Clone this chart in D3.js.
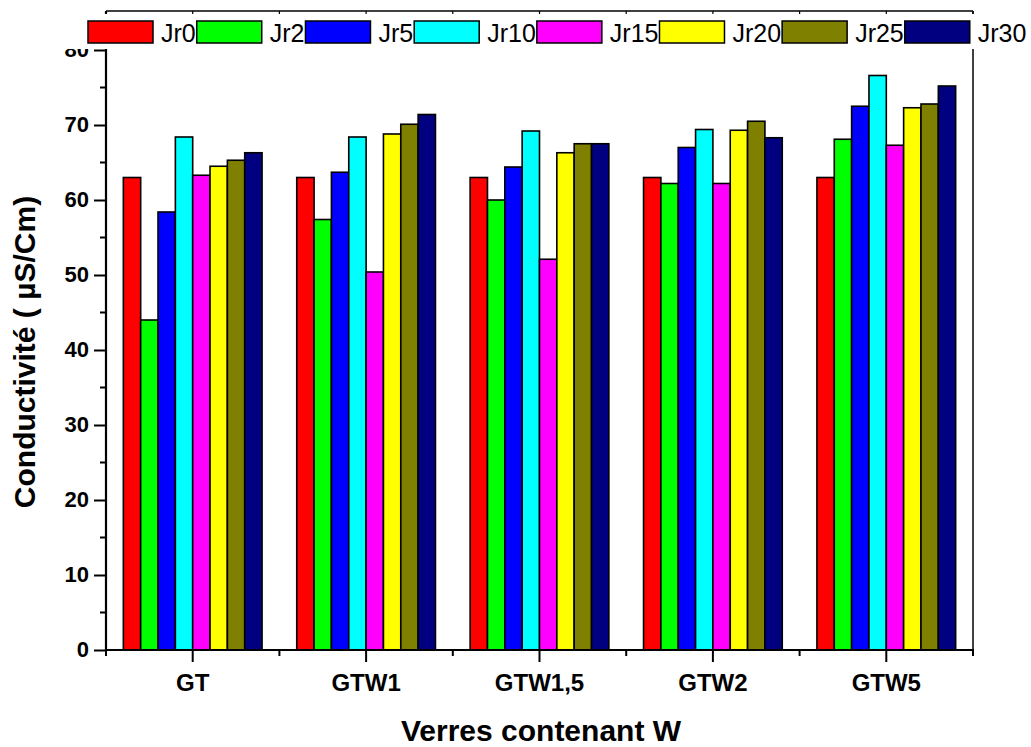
<!DOCTYPE html>
<html>
<head>
<meta charset="utf-8">
<script src="https://cdn.jsdelivr.net/npm/d3@7/dist/d3.min.js"></script>
<style>
  html, body { margin: 0; padding: 0; background: #fff; }
  svg { display: block; font-family: "Liberation Sans", Arial, Helvetica, sans-serif; }
</style>
</head>
<body>
<svg id="chart" width="1031" height="747"></svg>
<script>
// Glass samples along the x axis
const categories = ["GT", "GTW1", "GTW1,5", "GTW2", "GTW5"];
// Immersion days (one bar per day in each group)
const series = ["Jr0", "Jr2", "Jr5", "Jr10", "Jr15", "Jr20", "Jr25", "Jr30"];
const seriesColors = ["#ff0000", "#00ff00", "#0000ff", "#00ffff", "#ff00ff", "#ffff00", "#808000", "#000080"];

// Conductivity (µS/Cm), one array per day, ordered like categories
const Jr0  = [63.0, 63.0, 63.0, 63.0, 63.0];
const Jr2  = [44.0, 57.4, 60.0, 62.2, 68.1];
const Jr5  = [58.4, 63.7, 64.4, 67.0, 72.5];
const Jr10 = [68.4, 68.4, 69.2, 69.4, 76.6];
const Jr15 = [63.3, 50.4, 52.1, 62.2, 67.3];
const Jr20 = [64.5, 68.8, 66.3, 69.3, 72.3];
const Jr25 = [65.3, 70.1, 67.5, 70.5, 72.8];
const Jr30 = [66.3, 71.4, 67.5, 68.3, 75.2];
const values = [Jr0, Jr2, Jr5, Jr10, Jr15, Jr20, Jr25, Jr30];

const yMajorTicks = [0, 10, 20, 30, 40, 50, 60, 70, 80];
const yMinorTicks = [5, 15, 25, 35, 45, 55, 65, 75];

const svg = d3.select("#chart");
const plot = { left: 106, right: 973, top: 11, bottom: 650 };

const x = d3.scaleBand().domain(categories).range([plot.left, plot.right]).padding(0);
const slot = x.bandwidth() / 10;
const xs = d3.scaleBand().domain(series).range([slot, slot * 9]).padding(0);
const y = d3.scaleLinear().domain([0, 85.2]).range([plot.bottom, plot.top]);

// Bars
const groups = svg.append("g").selectAll("g")
  .data(categories)
  .join("g")
  .attr("transform", d => `translate(${x(d)},0)`);

groups.selectAll("rect")
  .data((c, ci) => series.map((s, si) => ({ s, si, v: values[si][ci] })))
  .join("rect")
  .attr("x", d => xs(d.s))
  .attr("y", d => y(d.v))
  .attr("width", xs.bandwidth())
  .attr("height", d => y(0) - y(d.v))
  .attr("fill", d => seriesColors[d.si])
  .attr("stroke", "#000")
  .attr("stroke-width", 1.6);

// Frame: top and right edges
svg.append("line").attr("x1", plot.left).attr("x2", plot.right)
  .attr("y1", plot.top).attr("y2", plot.top).attr("stroke", "#000").attr("stroke-width", 1.5);
svg.append("line").attr("x1", plot.right).attr("x2", plot.right)
  .attr("y1", plot.top).attr("y2", plot.bottom).attr("stroke", "#000").attr("stroke-width", 1.5);

// Top edge small inward ticks at category centres and boundaries
const xEdges = categories.map(c => x(c)).concat([plot.right]);
const xCenters = categories.map(c => x(c) + x.bandwidth() / 2);
svg.append("g").selectAll("line")
  .data(xEdges.concat(xCenters))
  .join("line")
  .attr("x1", d => d).attr("x2", d => d)
  .attr("y1", plot.top).attr("y2", plot.top + 3)
  .attr("stroke", "#000").attr("stroke-width", 1.2);

// Y axis
const yAxis = svg.append("g").attr("transform", `translate(${plot.left},0)`)
  .call(d3.axisLeft(y).tickValues(yMajorTicks).tickSize(12).tickPadding(5).tickFormat(d3.format("d")));
yAxis.select(".domain").remove();
yAxis.selectAll(".tick line").attr("stroke-width", 2);
yAxis.selectAll(".tick text")
  .attr("font-size", 22).attr("font-weight", "bold").attr("fill", "#000")
  .attr("font-family", "Liberation Sans, Arial, sans-serif").attr("dy", "0.28em");
svg.append("g").selectAll("line")
  .data(yMinorTicks)
  .join("line")
  .attr("x1", plot.left - 6).attr("x2", plot.left)
  .attr("y1", d => y(d)).attr("y2", d => y(d))
  .attr("stroke", "#000").attr("stroke-width", 2);
svg.append("line").attr("x1", plot.left).attr("x2", plot.left)
  .attr("y1", plot.top).attr("y2", plot.bottom + 1).attr("stroke", "#000").attr("stroke-width", 2.2);

// X axis
const xAxis = svg.append("g").attr("transform", `translate(0,${plot.bottom})`)
  .call(d3.axisBottom(x).tickSize(12).tickPadding(12));
xAxis.select(".domain").remove();
xAxis.selectAll(".tick line").attr("stroke-width", 2);
xAxis.selectAll(".tick text")
  .attr("font-size", 24).attr("font-weight", "bold").attr("fill", "#000")
  .attr("font-family", "Liberation Sans, Arial, sans-serif");
svg.append("g").selectAll("line")
  .data(xEdges)
  .join("line")
  .attr("x1", d => d).attr("x2", d => d)
  .attr("y1", plot.bottom).attr("y2", plot.bottom + 6)
  .attr("stroke", "#000").attr("stroke-width", 2);
svg.append("line").attr("x1", plot.left - 1).attr("x2", plot.right + 1)
  .attr("y1", plot.bottom).attr("y2", plot.bottom).attr("stroke", "#000").attr("stroke-width", 2.2);

// Axis titles
svg.append("text")
  .attr("x", 541).attr("y", 741)
  .attr("text-anchor", "middle").attr("font-size", 30).attr("font-weight", "bold")
  .text("Verres contenant W");
svg.append("text")
  .attr("transform", "translate(35,352) rotate(-90)")
  .attr("text-anchor", "middle").attr("font-size", 30).attr("font-weight", "bold")
  .text("Conductivité ( µS/Cm)");

// Legend across the top, on a white panel
const legend = svg.append("g");
legend.append("rect").attr("x", 55).attr("y", 14).attr("width", 976).attr("height", 35).attr("fill", "#fff");
let lx = 88;
series.forEach((s, i) => {
  legend.append("rect")
    .attr("x", lx).attr("y", 21).attr("width", 65).attr("height", 22)
    .attr("fill", seriesColors[i]).attr("stroke", "#000").attr("stroke-width", 1.5);
  const t = legend.append("text")
    .attr("x", lx + 73).attr("y", 42)
    .attr("font-size", 25).attr("fill", "#000")
    .text(s);
  lx = lx + 73 + t.node().getComputedTextLength() + 1;
});
</script>
</body>
</html>
